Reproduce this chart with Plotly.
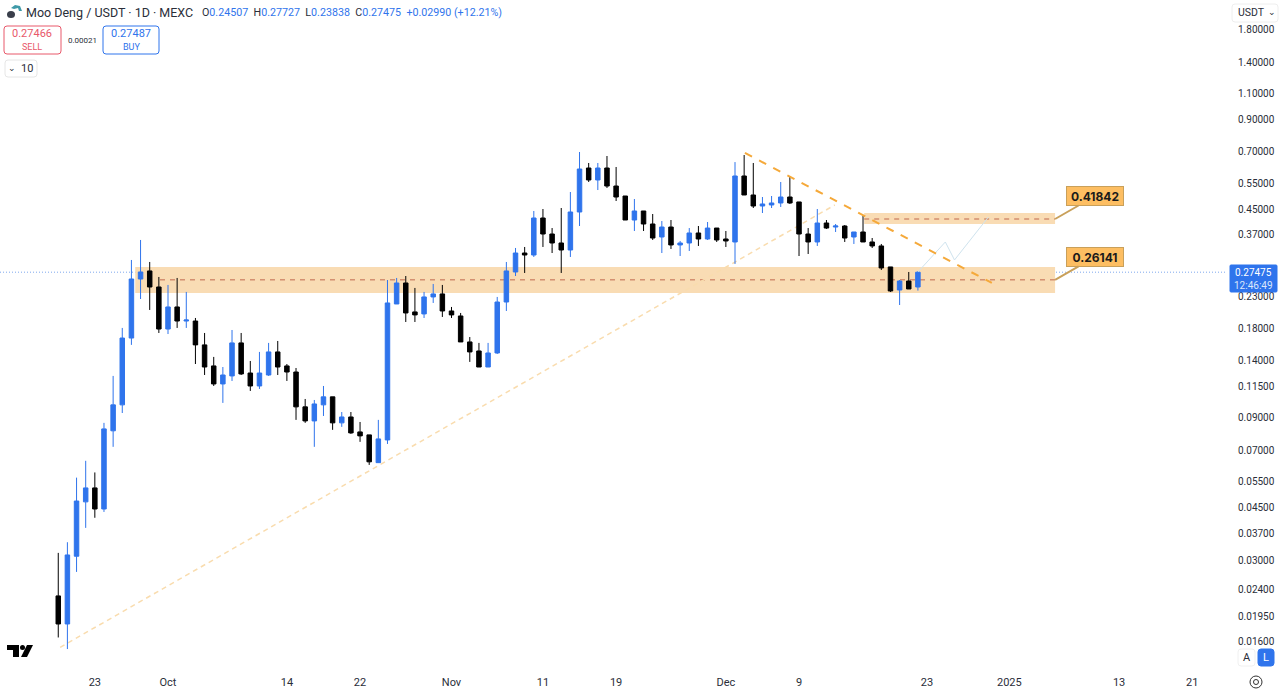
import math

import pandas as pd
import plotly.graph_objects as go

FONT = 'Inter'
NARROW_FONT = 'Roboto'
BLUE = '#2f74ec'
BLACK = '#000000'
TEXT = '#2a2e39'
RED = '#e8586a'
ZONE_FILL = '#f9dcb4'
ZONE_DASH = '#c0694f'
TREND_ORANGE = '#f5a93a'
RISING_ORANGE = '#f9dcae'
PATH_BLUE = '#cfe3ee'
CALLOUT_FILL = '#fdbe62'
CALLOUT_EDGE = '#c9a05a'

WIDTH = 1280
HEIGHT = 693
PLOT_RIGHT = 1225
PLOT_BOTTOM = 665

FIRST_DAY = '2024-09-19'
OPENS = [.0226, .0182, .0307, .0467, .0520, .0442, .0808, .0987, .1653, .2607,
         .2774, .2451, .1772, .2101, .1885, .1885, .1568, .1333, .1160, .1234,
         .1592, .1262, .1142, .1243, .1485, .1333, .1272, .0972, .0872, .0987,
         .1050, .0859, .0899, .0801, .0783, .0632, .0753, .2150, .2528, .2022,
         .1991, .2270, .2323, .2037, .1960, .1604, .1496, .1322, .1473, .2183,
         .2752, .3186, .3137, .4174, .3689, .3442, .3261, .4372, .6139, .5597,
         .6139, .5342, .4946, .4110, .4406, .3985, .3605, .3893, .3390, .3442,
         .3718, .3550, .3863, .3550, .3469, .5772, .4985, .4579, .4615, .4687,
         .4908, .4724, .3689, .3469, .4016, .3893, .3924, .3605, .3747, .3469,
         .3364, .2861, .2395, .2567, .24507]
HIGHS = [.0315, .0342, .0563, .0641, .0586, .0859, .1234, .1787, .3019, .3523,
         .2973, .2648, .2490, .2628, .2359, .1930, .1719, .1429, .1322, .1759,
         .1719, .1385, .1485, .1592, .1616, .1353, .1312, .1033, .1025, .1142,
         .1050, .0934, .0934, .0865, .0783, .0879, .2587, .2628, .2668, .2433,
         .2359, .2509, .2490, .2101, .2006, .1666, .1592, .1592, .2270, .2973,
         .3312, .3338, .4406, .4474, .3863, .4509, .5101, .6946, .6381, .6381,
         .6735, .6187, .4946, .4833, .4406, .4305, .4078, .4110, .3496, .3863,
         .3924, .4047, .3863, .3776, .6426, .6787, .6381, .4908, .4946, .5511,
         .5772, .4724, .3863, .4474, .4110, .3985, .3954, .3747, .4239, .3577,
         .3416, .2861, .2587, .2752, .27727]
LOWS = [.0164, .0150, .0272, .0382, .0413, .0432, .0714, .0927, .1568, .2234,
        .2053, .1719, .1705, .1787, .1787, .1353, .1243, .1142, .1002, .1187,
        .1243, .1099, .1116, .1234, .1243, .1187, .0879, .0859, .0714, .0906,
        .0814, .0833, .0789, .0742, .0621, .0632, .0730, .2150, .1871, .1871,
        .1930, .2167, .1945, .1930, .1604, .1375, .1322, .1322, .1462, .2037,
        .2668, .2731, .3090, .3338, .3186, .2731, .3090, .3924, .5511, .5180,
        .5262, .4759, .4110, .3776, .3776, .3523, .3186, .3287, .3113, .3236,
        .3364, .3523, .3469, .3338, .2928, .4985, .4509, .4338, .4509, .4544,
        .4651, .3113, .3162, .3364, .3834, .3747, .3469, .3416, .3469, .3312,
        .2795, .2359, .2133, .2414, .23838]
CLOSES = [.0182, .0310, .0470, .0520, .0442, .0820, .0987, .1653, .2607, .2752,
          .2451, .1772, .2101, .1885, .1900, .1568, .1322, .1160, .1243, .1592,
          .1253, .1142, .1262, .1485, .1322, .1272, .0972, .0872, .0994, .1050,
          .0859, .0899, .0795, .0777, .0636, .0759, .2167, .2528, .2006, .1976,
          .2270, .2323, .2037, .1976, .1604, .1485, .1322, .1473, .2183, .2774,
          .3186, .3137, .4174, .3689, .3442, .3261, .4372, .6092, .5597, .6139,
          .5342, .4908, .4110, .4406, .3985, .3577, .3893, .3390, .3442, .3718,
          .3550, .3863, .3523, .3496, .5772, .4985, .4579, .4651, .4687, .4908,
          .4687, .3689, .3469, .4016, .3863, .3924, .3577, .3747, .3469, .3364,
          .2839, .2377, .2567, .2414, .27475]

LAST_PRICE = 0.27475

PRICE_TICKS = [1.8, 1.4, 1.1, 0.9, 0.7, 0.55, 0.45, 0.37, 0.28, 0.23, 0.18,
               0.14, 0.115, 0.09, 0.07, 0.055, 0.045, 0.037, 0.03, 0.024,
               0.0195, 0.016]
DATE_TICKS = ['2024-09-23', '2024-10-01', '2024-10-14', '2024-10-22',
              '2024-11-01', '2024-11-11', '2024-11-19', '2024-12-01',
              '2024-12-09', '2024-12-23', '2025-01-01', '2025-01-13',
              '2025-01-21']
DATE_LABELS = ['23', 'Oct', '14', '22', 'Nov', '11', '19', 'Dec', '9', '23',
               '2025', '13', '21']

RISING_X = ['2024-09-19 05:00', '2024-12-12 22:00']
RISING_Y = [.0152, .4615]
FALLING_X = ['2024-12-03 02:00', '2024-12-30 02:00']
FALLING_Y = [.6893, .2528]
PATH_X = ['2024-12-22 00:00', '2024-12-25 00:00', '2024-12-26 00:00',
          '2024-12-29 17:00']
PATH_Y = [.2752, .3469, .3019, .4206]

ZONE_END = '2025-01-06 00:00'
LOWER_ZONE = ['2024-09-27 10:00', .2861, .2341]
UPPER_ZONE = ['2024-12-16 03:00', .4338, .3985]
LOWER_DASH = ['2024-09-30 03:00', .2590]
UPPER_DASH = ['2024-12-16 03:00', .4142]


def px(x):
    return x / PLOT_RIGHT


def py(y):
    return 1 - y / PLOT_BOTTOM


def rounded_box(x0, y0, x1, y1, r=3):
    return (f'M {px(x0 + r)},{py(y0)} L {px(x1 - r)},{py(y0)} '
            f'Q {px(x1)},{py(y0)} {px(x1)},{py(y0 + r)} L {px(x1)},{py(y1 - r)} '
            f'Q {px(x1)},{py(y1)} {px(x1 - r)},{py(y1)} L {px(x0 + r)},{py(y1)} '
            f'Q {px(x0)},{py(y1)} {px(x0)},{py(y1 - r)} L {px(x0)},{py(y0 + r)} '
            f'Q {px(x0)},{py(y0)} {px(x0 + r)},{py(y0)} Z')


def polygon(points):
    start, *rest = points
    path = f'M {px(start[0])},{py(start[1])} '
    for x, y in rest:
        path += f'L {px(x)},{py(y)} '
    return path + 'Z'


def box_shape(x0, y0, x1, y1, edge, fill='#ffffff', r=3):
    return dict(type='path', xref='paper', yref='paper',
                path=rounded_box(x0, y0, x1, y1, r),
                line=dict(color=edge, width=1), fillcolor=fill, layer='above')


def ui_text(x, y, text, size=11, color=TEXT, anchor='center', family=NARROW_FONT):
    font = dict(family=family, size=size, color=color)
    return dict(xref='paper', yref='paper', x=px(x), y=py(y), text=text,
                showarrow=False, xanchor=anchor, yanchor='middle', font=font)


def callout(y_value, text):
    # annotation positions on a log axis are given in log10
    return dict(x=ZONE_END, y=math.log10(y_value), xref='x', yref='y',
                text=f'<b>{text}</b>', showarrow=True, arrowhead=0, arrowwidth=2,
                arrowcolor=CALLOUT_EDGE, ax=40, ay=-23, width=56, height=18,
                bgcolor=CALLOUT_FILL, bordercolor=CALLOUT_EDGE, borderwidth=1,
                borderpad=0, font=dict(family=FONT, size=12, color='#1a1a1a'))


dates = pd.date_range(FIRST_DAY, periods=len(OPENS), freq='D')

fig = go.Figure()
fig.add_trace(go.Candlestick(
    x=dates, open=OPENS, high=HIGHS, low=LOWS, close=CLOSES,
    increasing=dict(line=dict(color=BLUE, width=1), fillcolor=BLUE),
    decreasing=dict(line=dict(color=BLACK, width=1), fillcolor=BLACK),
    hoverinfo='skip', showlegend=False))
fig.add_trace(go.Scatter(x=PATH_X, y=PATH_Y, mode='lines', hoverinfo='skip',
                         line=dict(color=PATH_BLUE, width=1), showlegend=False))

shapes = [
    dict(type='rect', xref='x', yref='y', x0=LOWER_ZONE[0], x1=ZONE_END,
         y0=LOWER_ZONE[1], y1=LOWER_ZONE[2], fillcolor=ZONE_FILL, line_width=0,
         layer='below'),
    dict(type='rect', xref='x', yref='y', x0=UPPER_ZONE[0], x1=ZONE_END,
         y0=UPPER_ZONE[1], y1=UPPER_ZONE[2], fillcolor=ZONE_FILL, line_width=0,
         layer='below'),
    dict(type='line', xref='x', yref='y', x0=LOWER_DASH[0], x1=ZONE_END,
         y0=LOWER_DASH[1], y1=LOWER_DASH[1], layer='below',
         line=dict(color=ZONE_DASH, width=1, dash='5px,5px')),
    dict(type='line', xref='x', yref='y', x0=UPPER_DASH[0], x1=ZONE_END,
         y0=UPPER_DASH[1], y1=UPPER_DASH[1], layer='below',
         line=dict(color=ZONE_DASH, width=1, dash='5px,5px')),
    dict(type='line', xref='x', yref='y', x0=RISING_X[0], x1=RISING_X[1],
         y0=RISING_Y[0], y1=RISING_Y[1], layer='below',
         line=dict(color=RISING_ORANGE, width=1.5, dash='5px,4px')),
    dict(type='line', xref='x', yref='y', x0=FALLING_X[0], x1=FALLING_X[1],
         y0=FALLING_Y[0], y1=FALLING_Y[1], layer='above',
         line=dict(color=TREND_ORANGE, width=2, dash='8px,8px')),
    dict(type='line', xref='paper', yref='y', x0=0, x1=1, y0=LAST_PRICE,
         y1=LAST_PRICE, layer='below',
         line=dict(color='#7fa8ee', width=1, dash='1px,2px')),
    # header widgets
    box_shape(4, 26, 61, 54, RED),
    box_shape(103, 26, 159, 54, BLUE),
    box_shape(5, 60, 37, 77, '#e6e6e6'),
    box_shape(1232, 4, 1278, 22, '#eeeeee'),
    box_shape(1238, 649, 1255, 666, '#f0f0f0'),
    box_shape(1258, 649, 1274, 666, BLUE, fill=BLUE),
    box_shape(1230, 265, 1277, 292, BLUE, fill=BLUE, r=1),
    # symbol logo
    dict(type='circle', xref='paper', yref='paper', x0=px(7), x1=px(15),
         y0=py(18), y1=py(11), fillcolor='#3a3f4b', line_width=0, layer='above'),
    dict(type='path', xref='paper', yref='paper', layer='above',
         path=polygon([(11, 8), (15, 5), (20, 6), (22, 11), (19, 11), (18, 8), (14, 9)]),
         fillcolor='#3f9aa8', line_width=0),
    # TV mark
    dict(type='path', xref='paper', yref='paper', layer='above',
         path=polygon([(7, 645), (19, 645), (19, 657), (13, 657), (13, 650), (7, 650)]),
         fillcolor='#000000', line_width=0),
    dict(type='circle', xref='paper', yref='paper', x0=px(20), x1=px(25),
         y0=py(650), y1=py(645), fillcolor='#000000', line_width=0, layer='above'),
    dict(type='path', xref='paper', yref='paper', layer='above',
         path=polygon([(27, 645), (33, 645), (27, 657), (21, 657)]),
         fillcolor='#000000', line_width=0),
    # chart settings gear
    dict(type='circle', xref='paper', yref='paper', x0=px(1250), x1=px(1262),
         y0=py(688), y1=py(676), line=dict(color='#333333', width=1), layer='above'),
    dict(type='circle', xref='paper', yref='paper', x0=px(1253.5), x1=px(1258.5),
         y0=py(684.5), y1=py(679.5), line=dict(color='#333333', width=1), layer='above'),
]

quote = ('<span style="color:%s">O</span>0.24507  <span style="color:%s">H</span>0.27727  '
         '<span style="color:%s">L</span>0.23838  <span style="color:%s">C</span>0.27475  '
         '+0.02990 (+12.21%%)') % (TEXT, TEXT, TEXT, TEXT)

annotations = [
    callout(UPPER_DASH[1], '0.41842'),
    callout(LOWER_DASH[1], '0.26141'),
    ui_text(24, 13, 'Moo Deng / USDT · 1D · MEXC', size=12.5, anchor='left'),
    ui_text(200, 13, quote, size=10.7, color=BLUE, anchor='left'),
    ui_text(32, 34, '0.27466', size=11, color=RED),
    ui_text(32, 47, 'SELL', size=9, color=RED),
    ui_text(82, 41, '0.00021', size=8),
    ui_text(131, 34, '0.27487', size=11, color=BLUE),
    ui_text(131, 47, 'BUY', size=9, color=BLUE),
    ui_text(12, 68, '⌄', size=9),
    ui_text(27, 68, '10', size=11),
    ui_text(1236, 13, 'USDT', size=10.5, anchor='left'),
    ui_text(1272, 12, '⌄', size=9),
    ui_text(1246.5, 657.5, 'A', size=11),
    ui_text(1266, 657.5, 'L', size=11, color='#ffffff'),
    ui_text(1253.5, 273, '0.27475', size=10, color='#ffffff'),
    ui_text(1253.5, 285, '12:46:49', size=10, color='#dbe7fb'),
]

fig.update_layout(
    width=WIDTH, height=HEIGHT, autosize=False,
    margin=dict(l=0, r=WIDTH - PLOT_RIGHT, t=0, b=HEIGHT - PLOT_BOTTOM, pad=0),
    paper_bgcolor='#ffffff', plot_bgcolor='#ffffff',
    shapes=shapes, annotations=annotations, hovermode=False,
    xaxis=dict(type='date', range=['2024-09-12 15:07', '2025-01-24 13:55'],
               rangeslider=dict(visible=False), showgrid=False, zeroline=False,
               tickmode='array', tickvals=DATE_TICKS, ticktext=DATE_LABELS,
               ticks='outside', ticklen=7, tickcolor='#ffffff', showline=False,
               tickangle=0, tickfont=dict(family=NARROW_FONT, size=11, color=TEXT)),
    yaxis=dict(type='log', side='right', range=[-1.8774, 0.3511],
               showgrid=False, zeroline=False, showline=False,
               tickmode='array', tickvals=PRICE_TICKS,
               ticktext=[f'{tick:.5f}' for tick in PRICE_TICKS],
               ticks='outside', ticklen=10, tickcolor='#ffffff', ticklabelshift=1,
               tickfont=dict(family=NARROW_FONT, size=10, color=TEXT)),
)

fig.write_html('out.html', config=dict(displayModeBar=False),
               post_script="document.body.style.margin='0';")
